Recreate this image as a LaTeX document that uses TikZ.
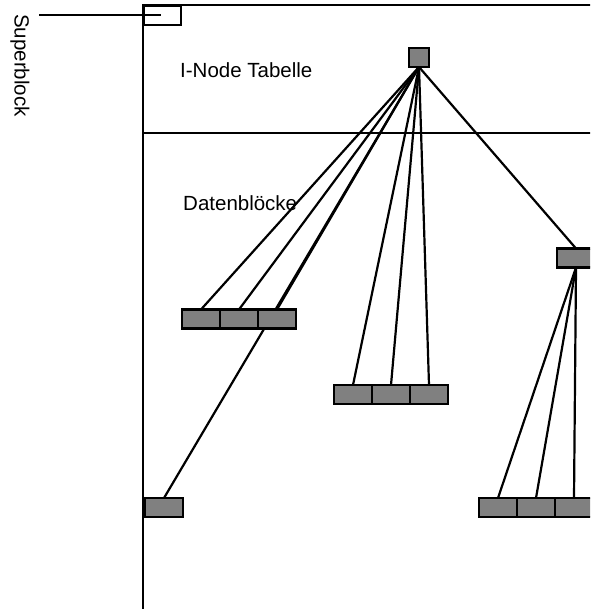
\documentclass[tikz,border=0pt]{standalone}
\usepackage{fontspec}
\setmainfont{Liberation Sans}
\usepackage{tikz}
\usetikzlibrary{positioning}
\pgfdeclarelayer{background}
\pgfsetlayers{background,main}

\begin{document}
\begin{tikzpicture}[
        x=1pt,
        y=-1pt,
        font=\fontsize{20.5}{24}\selectfont,
        frame/.style={line width=2.2pt},
        link/.style={line width=2.2pt},
        blk/.style={draw, line width=2.4pt, fill=black!50,
            minimum width=38pt, minimum height=19pt, inner sep=0pt, outer sep=0pt},
        label/.style={inner sep=0pt, anchor=base west}
    ]
        \useasboundingbox (0,0) rectangle (590,609);
        \clip (0,0) rectangle (590,609);

        % Rahmen der Platte
        \draw[frame] (143,609) -- (143,5) -- (592,5);
        \draw[frame] (143,133) -- (592,133);
        \node[draw, line width=2.2pt, minimum width=37pt, minimum height=19pt,
            inner sep=0pt, anchor=north west] (super) at (143,5) {};
        \coordinate (superend) at (39,15);
        \draw[link] (superend) -- (super.west |- superend) -- ++(18,0);
        \node[rotate=-90, inner sep=0pt] (supertext) at (20,65.5) {Superblock};

        \node[label] (itab) at (180,78) {I-Node Tabelle};
        \node[label] (daten) at (183,211) {Datenblöcke};

        % I-Node und Bloecke
        \node[blk, minimum width=20pt] (inode) at (419,57.5) {};
        \node[blk] (a1) at (201,319) {};
        \node[blk, right=0pt of a1] (a2) {};
        \node[blk, right=0pt of a2] (a3) {};
        \node[blk] (b1) at (353,394.5) {};
        \node[blk, right=0pt of b1] (b2) {};
        \node[blk, right=0pt of b2] (b3) {};
        \node[blk] (ind) at (576,258) {};
        \node[blk] (c1) at (498,507.5) {};
        \node[blk, right=0pt of c1] (c2) {};
        \node[blk, right=0pt of c2] (c3) {};
        \node[blk] (single) at (164,507.5) {};

        \begin{pgfonlayer}{background}
            \foreach \t in {a1,a2,a3,single,b1,b2,b3,ind} {
                \draw[link] (inode.south) -- (\t.north);
            }
            \foreach \t in {c1,c2,c3} {
                \draw[link] (ind.south) -- (\t.north);
            }
        \end{pgfonlayer}
    \end{tikzpicture}
\end{document}
